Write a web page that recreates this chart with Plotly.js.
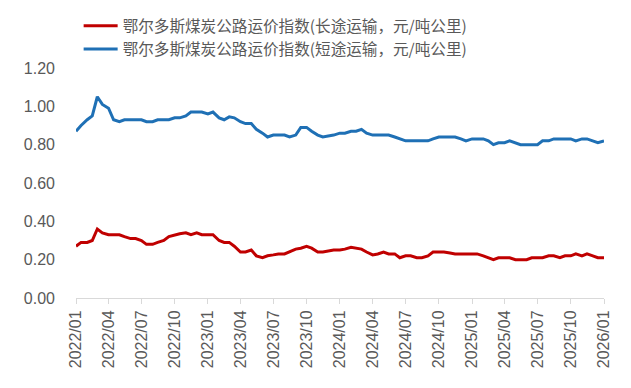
<!DOCTYPE html>
<html>
<head>
<meta charset="utf-8">
<script src="https://cdn.plot.ly/plotly-3.0.1.min.js"></script>
<style>html,body{margin:0;padding:0;background:#fff;}#chart{width:631px;height:388px;}</style>
</head>
<body>
<div id="chart"></div>
<script>
// semi-monthly observation dates
const dates = [];
for (let y = 2022; y <= 2025; y++) {
  for (let m = 1; m <= 12; m++) {
    const mm = String(m).padStart(2, '0');
    dates.push(y + '-' + mm + '-01');
    dates.push(y + '-' + mm + '-15');
  }
}
dates.push('2026-01-01');

const seriesLongName = '鄂尔多斯煤炭公路运价指数(长途运输，元/吨公里)';
const seriesShortName = '鄂尔多斯煤炭公路运价指数(短途运输，元/吨公里)';

const longHaul = [
  0.27,0.29,0.29,0.30,0.36,0.34,0.33,0.33,0.33,0.32,0.31,0.31,
  0.30,0.28,0.28,0.29,0.30,0.32,0.33,0.335,0.34,0.33,0.34,0.33,
  0.33,0.33,0.30,0.29,0.29,0.27,0.24,0.24,0.25,0.22,0.21,0.22,
  0.225,0.23,0.23,0.24,0.255,0.26,0.27,0.26,0.24,0.24,0.245,0.25,
  0.25,0.255,0.265,0.26,0.255,0.24,0.225,0.23,0.24,0.23,0.23,0.21,
  0.22,0.22,0.21,0.21,0.22,0.24,0.24,0.24,0.235,0.23,0.23,0.23,
  0.23,0.23,0.22,0.21,0.20,0.21,0.21,0.21,0.20,0.20,0.20,0.21,
  0.21,0.21,0.22,0.22,0.21,0.22,0.22,0.23,0.22,0.23,0.22,0.21,
  0.21
];

const shortHaul = [
  0.87,0.90,0.93,0.95,1.05,1.01,0.99,0.93,0.92,0.93,0.93,0.93,
  0.93,0.92,0.92,0.93,0.93,0.93,0.94,0.94,0.95,0.97,0.97,0.97,
  0.96,0.97,0.94,0.93,0.945,0.94,0.92,0.91,0.91,0.88,0.86,0.84,
  0.85,0.85,0.85,0.84,0.85,0.89,0.89,0.87,0.85,0.84,0.845,0.85,
  0.86,0.86,0.87,0.87,0.88,0.86,0.85,0.85,0.85,0.85,0.84,0.83,
  0.82,0.82,0.82,0.82,0.82,0.83,0.84,0.84,0.84,0.84,0.83,0.82,
  0.83,0.83,0.83,0.82,0.80,0.81,0.81,0.82,0.81,0.80,0.80,0.80,
  0.80,0.82,0.82,0.83,0.83,0.83,0.83,0.82,0.83,0.83,0.82,0.81,
  0.82
];

const yTicks = [0, 0.2, 0.4, 0.6, 0.8, 1.0, 1.2];

const traces = [
  {x: dates, y: longHaul, name: seriesLongName, type: 'scatter', mode: 'lines',
   line: {color: '#C00000', width: 3}},
  {x: dates, y: shortHaul, name: seriesShortName, type: 'scatter', mode: 'lines',
   line: {color: '#1F70B5', width: 3}}
];

const tickFont = {family: 'Liberation Sans, Arial, sans-serif', size: 16, color: '#595959'};

const layout = {
  width: 631, height: 388,
  margin: {l: 76, r: 27, t: 68, b: 90, autoexpand: false},
  paper_bgcolor: '#fff', plot_bgcolor: '#fff',
  showlegend: true,
  legend: {
    x: 0.005, y: 1.256, xanchor: 'left', yanchor: 'top',
    orientation: 'v',
    font: {family: 'Noto Sans CJK SC, sans-serif', size: 15.6, color: '#595959'},
    tracegroupgap: 0, itemwidth: 34,
    bgcolor: 'rgba(0,0,0,0)'
  },
  xaxis: {
    type: 'date',
    range: ['2022-01-01', '2026-01-01'],
    tick0: '2022-01-01', dtick: 'M3', tickformat: '%Y/%m',
    tickangle: -90,
    ticks: 'outside', ticklen: 5, tickcolor: '#d9d9d9',
    showline: true, linecolor: '#d9d9d9', linewidth: 1,
    showgrid: false, zeroline: false,
    tickfont: tickFont
  },
  yaxis: {
    range: [0, 1.2],
    tickvals: yTicks, tickformat: '.2f',
    showline: false, showgrid: false, zeroline: false,
    ticks: '', ticklen: 0, ticklabelstandoff: 20,
    tickfont: tickFont
  }
};

Plotly.newPlot('chart', traces, layout, {displayModeBar: false, staticPlot: true});
</script>
</body>
</html>
